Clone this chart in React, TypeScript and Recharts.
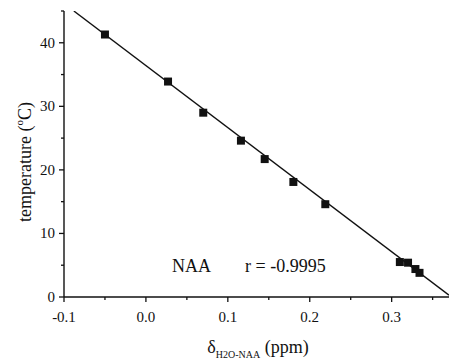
import React from 'react';
import { ScatterChart, Scatter, XAxis, YAxis, ZAxis, Label } from 'recharts';

// measured points: chemical shift difference (ppm) vs temperature (°C)
const shift = [-0.05, 0.027, 0.07, 0.116, 0.145, 0.18, 0.219, 0.31, 0.32, 0.329, 0.334];
const temp = [41.3, 33.9, 29.0, 24.6, 21.7, 18.1, 14.6, 5.5, 5.4, 4.4, 3.8];

// linear fit ends
const fitShift = [-0.088, 0.37];
const fitTemp = [45, 0.3];

const xTicks = [-0.1, -0.05, 0, 0.05, 0.1, 0.15, 0.2, 0.25, 0.3, 0.35];
const yTicks = [0, 5, 10, 15, 20, 25, 30, 35, 40, 45];

const points = shift.map((x, i) => ({ x, y: temp[i] }));
const fit = fitShift.map((x, i) => ({ x, y: fitTemp[i] }));

const FONT = '"Liberation Serif", "Times New Roman", "DejaVu Serif", serif';
const INK = '#111';
const txt = { fontFamily: FONT };

const isMajorX = (v: number) => Math.abs(v * 10 - Math.round(v * 10)) < 1e-6;
const isMajorY = (v: number) => v % 10 === 0;

const XTick = ({ x, y, payload }: any) => {
  const major = isMajorX(payload.value);
  return (
    <g>
      <line x1={x} x2={x} y1={y} y2={y + (major ? 5 : 3)} stroke={INK} strokeWidth={1.3} />
      {major && (
        <text x={x} y={y + 25} textAnchor="middle" style={txt} fontSize={15} fill={INK}>
          {payload.value.toFixed(1)}
        </text>
      )}
    </g>
  );
};

const YTick = ({ x, y, payload }: any) => {
  const major = isMajorY(payload.value);
  return (
    <g>
      <line x1={x} x2={x - (major ? 5 : 3)} y1={y} y2={y} stroke={INK} strokeWidth={1.3} />
      {major && (
        <text x={x - 9} y={y + 5} textAnchor="end" style={txt} fontSize={15} fill={INK}>
          {payload.value}
        </text>
      )}
    </g>
  );
};

const XTitle = () => (
  <text x={258} y={353} textAnchor="middle" style={txt} fontSize={18} fill={INK}>
    δ
    <tspan fontSize={10} dy={5}>H2O-NAA</tspan>
    <tspan dy={-5}> (ppm)</tspan>
  </text>
);

const YTitle = () => (
  <text
    x={25}
    y={162}
    transform="rotate(-90 25 162)"
    textAnchor="middle"
    dominantBaseline="central"
    style={txt}
    fontSize={18}
    fill={INK}
  >
    temperature (
    <tspan fontSize={11} dy={-6}>o</tspan>
    <tspan dy={6}>C)</tspan>
  </text>
);

export default function App() {
  return (
    <div style={{ position: 'absolute', left: 0, top: 0, background: '#fff' }}>
      <ScatterChart width={458} height={363} margin={{ top: 11, right: 9, bottom: 0, left: 0 }}>
        <XAxis
          type="number"
          dataKey="x"
          domain={[-0.1, 0.37]}
          ticks={xTicks}
          interval={0}
          allowDataOverflow
          height={66}
          tickSize={0}
          tickMargin={0}
          tickLine={false}
          axisLine={{ stroke: INK, strokeWidth: 1.4 }}
          tick={<XTick />}
        >
          <Label content={<XTitle />} />
        </XAxis>
        <YAxis
          type="number"
          dataKey="y"
          domain={[0, 45]}
          ticks={yTicks}
          interval={0}
          allowDataOverflow
          width={64}
          tickSize={0}
          tickMargin={0}
          tickLine={false}
          axisLine={{ stroke: INK, strokeWidth: 1.4 }}
          tick={<YTick />}
        >
          <Label content={<YTitle />} />
        </YAxis>
        <ZAxis range={[36, 36]} />
        <Scatter
          data={fit}
          line={{ stroke: INK, strokeWidth: 1.4 }}
          shape={() => <g />}
          isAnimationActive={false}
        />
        <Scatter data={points} shape="square" fill={INK} isAnimationActive={false} />
        <text x={172} y={272} style={txt} fontSize={18} fill={INK}>NAA</text>
        <text x={245} y={272} style={txt} fontSize={18} fill={INK}>r = -0.9995</text>
      </ScatterChart>
    </div>
  );
}
